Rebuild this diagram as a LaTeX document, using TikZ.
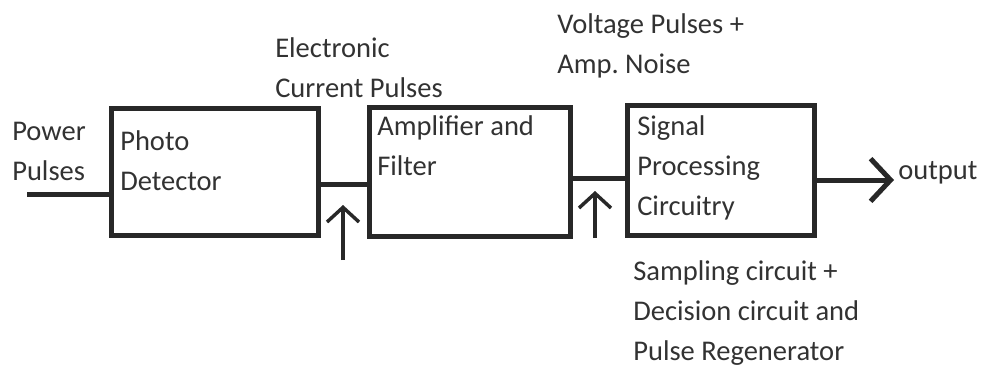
\documentclass[tikz,border=0pt]{standalone}
\usepackage{fontspec}
\setmainfont{Carlito}
\usetikzlibrary{arrows.meta}
\definecolor{ink}{RGB}{40,40,40}
\definecolor{txt}{RGB}{50,50,50}
\frenchspacing
\tikzset{
  blk/.style={draw=ink, line width=3.75pt, minimum width=#1, inner sep=0pt},
  lbl/.style={anchor=base west, inner sep=0pt, align=left, text=txt,
    font=\fontsize{21.4}{30}\selectfont},
  wire/.style={draw=ink, line width=3.75pt},
  uparr/.style={draw=ink, line width=2.6pt, -{Straight Barb[length=11pt, width=24pt, line width=2.6pt]}},
  outarr/.style={draw=ink, line width=3.75pt, -{Straight Barb[length=15pt, width=32pt, line width=3.75pt]}}
}
\begin{document}
\begin{tikzpicture}[x=0.75pt, y=-0.75pt]
\useasboundingbox (0,0) rectangle (986,371);
% boxes
\node[blk=155.25pt, minimum height=95.25pt] (pd) at (214.5,171.5) {};
\node[blk=150.75pt, minimum height=96.75pt] (af) at (469.5,171.5) {};
\node[blk=140.25pt, minimum height=97.5pt] (sp) at (720.5,170) {};
% texts (anchored at the baseline of the last line)
\node[lbl] (tpow) at (12,180) {Power\\Pulses};
\node[lbl] (tpd) at (120,190) {Photo\\Detector};
\node[lbl] (tecp) at (275,97) {Electronic\\Current Pulses};
\node[lbl] (taf) at (377,175) {Amplifier and\\Filter};
\node[lbl] (tvp) at (557,73) {Voltage Pulses +\\Amp. Noise};
\node[lbl] (tsp) at (637,215) {Signal\\Processing\\Circuitry};
\node[lbl] (tout) at (898,179) {output};
\node[lbl] (tsc) at (633,360) {Sampling circuit +\\Decision circuit and\\Pulse Regenerator};
% connectors
\coordinate (in) at (27,194);
\coordinate (c1) at (320,184);
\coordinate (c2) at (570,178);
\coordinate (c3) at (814,180);
\coordinate (oend) at (894,180);
\draw[wire] (in) -- (in -| pd.west);
\draw[wire] (pd.east |- c1) -- (af.west |- c1);
\draw[wire] (af.east |- c2) -- (sp.west |- c2);
\draw[outarr] (sp.east |- c3) -- (oend);
\coordinate (u1s) at (343,260);
\coordinate (u1e) at (343,205);
\coordinate (u2s) at (595,238);
\coordinate (u2e) at (595,191);
\draw[uparr] (u1s) -- (u1e);
\draw[uparr] (u2s) -- (u2e);
\end{tikzpicture}
\end{document}
